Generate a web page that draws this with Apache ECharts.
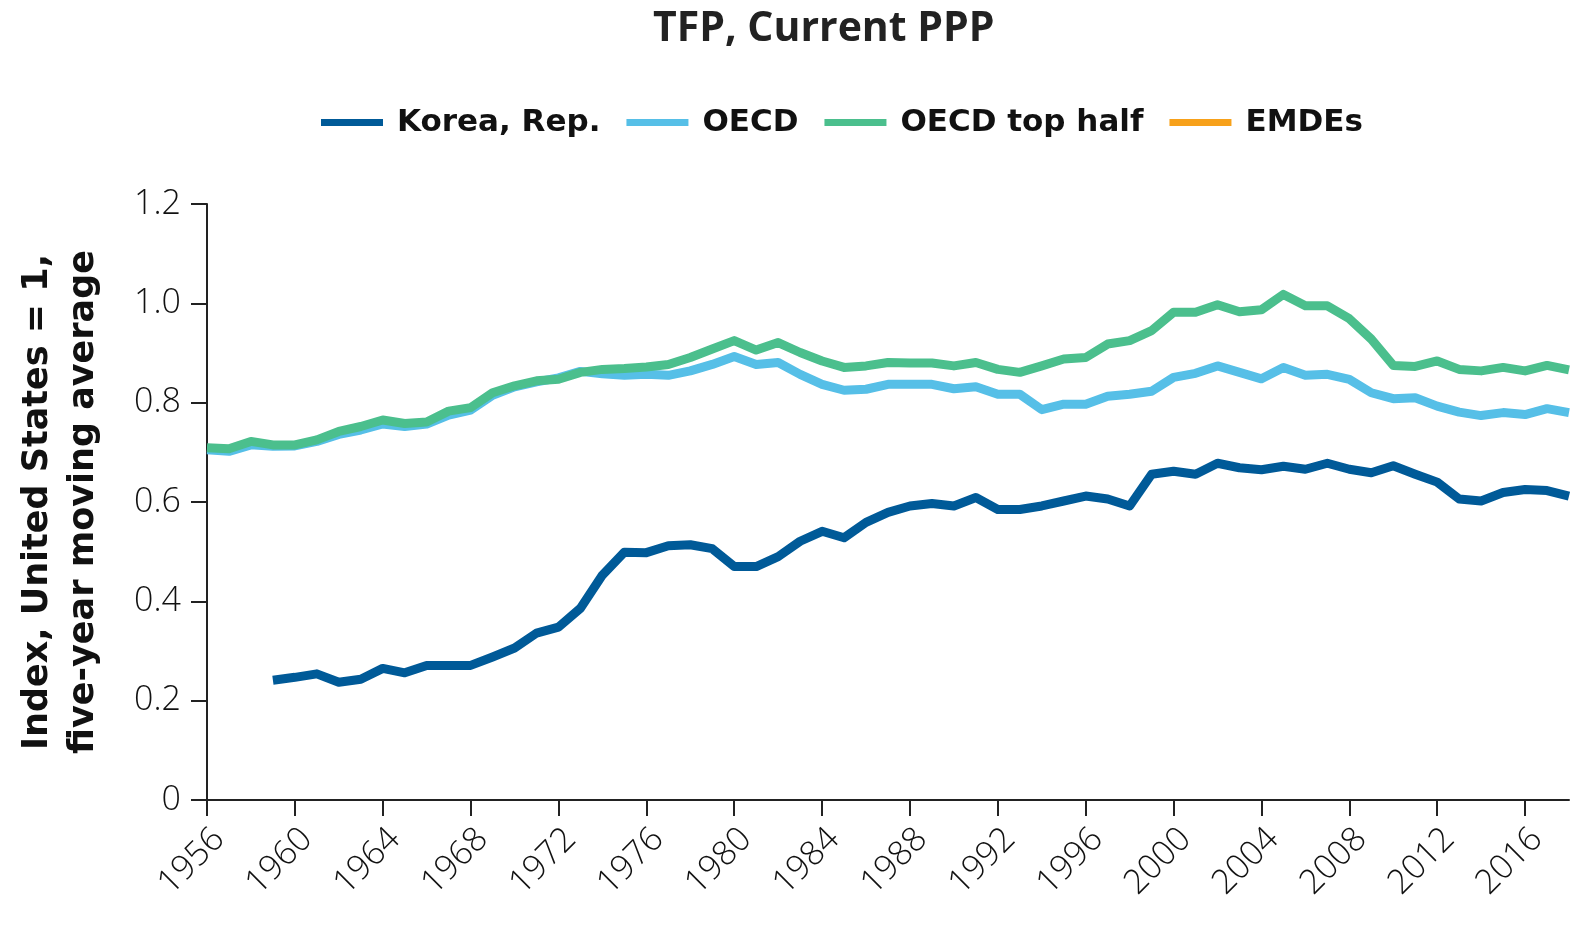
<!DOCTYPE html>
<html>
<head>
<meta charset="utf-8">
<script src="https://cdn.jsdelivr.net/npm/echarts@6/dist/echarts.min.js"></script>
<style>
  html, body { margin: 0; padding: 0; background: #fff; }
  #chart { width: 1576px; height: 933px; }
</style>
</head>
<body>
<div id="chart"></div>
<script>
var years = []
for (var y = 1956; y <= 2018; y++) years.push(String(y))

// Korea starts in 1959
var korea = [null, null, null,
  0.241, 0.247, 0.254, 0.237, 0.243, 0.265, 0.256, 0.271, 0.271, 0.271,
  0.288, 0.306, 0.336, 0.348, 0.386, 0.453, 0.499, 0.498, 0.512, 0.514,
  0.506, 0.470, 0.470, 0.490, 0.521, 0.541, 0.528, 0.559, 0.579, 0.592,
  0.597, 0.592, 0.609, 0.585, 0.585, 0.592, 0.602, 0.612, 0.606, 0.592,
  0.656, 0.662, 0.656, 0.678, 0.669, 0.665, 0.672, 0.666, 0.678, 0.666,
  0.659, 0.673, 0.656, 0.640, 0.606, 0.602, 0.619, 0.625, 0.623, 0.612]

var oecd = [0.705, 0.702, 0.715, 0.712, 0.713, 0.722, 0.736, 0.745, 0.757, 0.752,
  0.757, 0.775, 0.785, 0.815, 0.832, 0.842, 0.850, 0.863, 0.858, 0.855,
  0.857, 0.855, 0.864, 0.877, 0.893, 0.877, 0.881, 0.857, 0.837, 0.825,
  0.827, 0.837, 0.837, 0.837, 0.828, 0.832, 0.817, 0.817, 0.786, 0.797,
  0.797, 0.813, 0.817, 0.823, 0.851, 0.859, 0.874, 0.861, 0.848, 0.871,
  0.855, 0.857, 0.847, 0.820, 0.808, 0.810, 0.793, 0.781, 0.774, 0.780,
  0.776, 0.788, 0.780]

var oecdTop = [0.709, 0.707, 0.722, 0.715, 0.715, 0.725, 0.742, 0.752, 0.765, 0.758,
  0.761, 0.783, 0.790, 0.820, 0.834, 0.844, 0.847, 0.861, 0.867, 0.869,
  0.872, 0.877, 0.891, 0.908, 0.925, 0.906, 0.921, 0.901, 0.884, 0.871,
  0.874, 0.881, 0.880, 0.880, 0.874, 0.881, 0.867, 0.861, 0.874, 0.888,
  0.891, 0.918, 0.925, 0.945, 0.982, 0.982, 0.997, 0.983, 0.987, 1.018,
  0.995, 0.995, 0.969, 0.928, 0.875, 0.873, 0.884, 0.867, 0.864, 0.871,
  0.864, 0.875, 0.866]

// EMDEs appears in the legend only
var emdes = []

var chart = echarts.init(document.getElementById('chart'))

function lineSeries(name, data, color) {
  return {
    name: name,
    type: 'line',
    data: data,
    symbol: 'none',
    connectNulls: false,
    lineStyle: { width: 9, color: color, join: 'round' },
    itemStyle: { color: color }
  }
}

chart.setOption({
  backgroundColor: '#fff',
  animation: false,
  title: {
    text: 'TFP, Current PPP',
    left: 648,
    top: 4,
    textStyle: {
      fontFamily: 'Open Sans',
      fontWeight: 'bold',
      fontSize: 41,
      color: '#222'
    }
  },
  legend: {
    top: 102,
    left: 316,
    icon: 'rect',
    itemWidth: 62,
    itemHeight: 7,
    itemGap: 26,
    textStyle: {
      fontFamily: 'DejaVu Sans',
      fontWeight: 'bold',
      fontSize: 31,
      color: '#111',
      padding: [0, 0, 0, 9]
    },
    data: ['Korea, Rep.', 'OECD', 'OECD top half', 'EMDEs']
  },
  grid: {
    left: 207,
    right: 7,
    top: 204,
    bottom: 133
  },
  xAxis: {
    type: 'category',
    data: years,
    boundaryGap: false,
    axisLine: { lineStyle: { color: '#222', width: 2 } },
    axisTick: {
      interval: 3,
      length: 16,
      lineStyle: { color: '#222', width: 2 }
    },
    axisLabel: {
      interval: 3,
      rotate: 45,
      margin: 22,
      verticalAlign: 'top',
      fontFamily: 'Open Sans',
      fontWeight: 300,
      fontSize: 34,
      color: '#111'
    }
  },
  yAxis: {
    type: 'value',
    min: 0,
    max: 1.2,
    interval: 0.2,
    name: 'Index, United States = 1,\nfive-year moving average',
    nameLocation: 'middle',
    nameGap: 100,
    nameTextStyle: {
      fontFamily: 'DejaVu Sans',
      fontWeight: 'bold',
      fontSize: 35,
      lineHeight: 46,
      color: '#111'
    },
    axisLine: { show: true, lineStyle: { color: '#222', width: 2 } },
    axisTick: { show: true, length: 16, lineStyle: { color: '#222', width: 2 } },
    axisLabel: {
      margin: 26,
      fontFamily: 'Open Sans',
      fontWeight: 300,
      fontSize: 34,
      color: '#111',
      formatter: function(v) { return v === 0 ? '0' : v.toFixed(1) }
    },
    splitLine: { show: false }
  },
  series: [
    lineSeries('EMDEs', emdes, '#f7a11a'),
    lineSeries('OECD', oecd, '#56bfe7'),
    lineSeries('OECD top half', oecdTop, '#4bbf8d'),
    lineSeries('Korea, Rep.', korea, '#005a98')
  ]
})
</script>
</body>
</html>
